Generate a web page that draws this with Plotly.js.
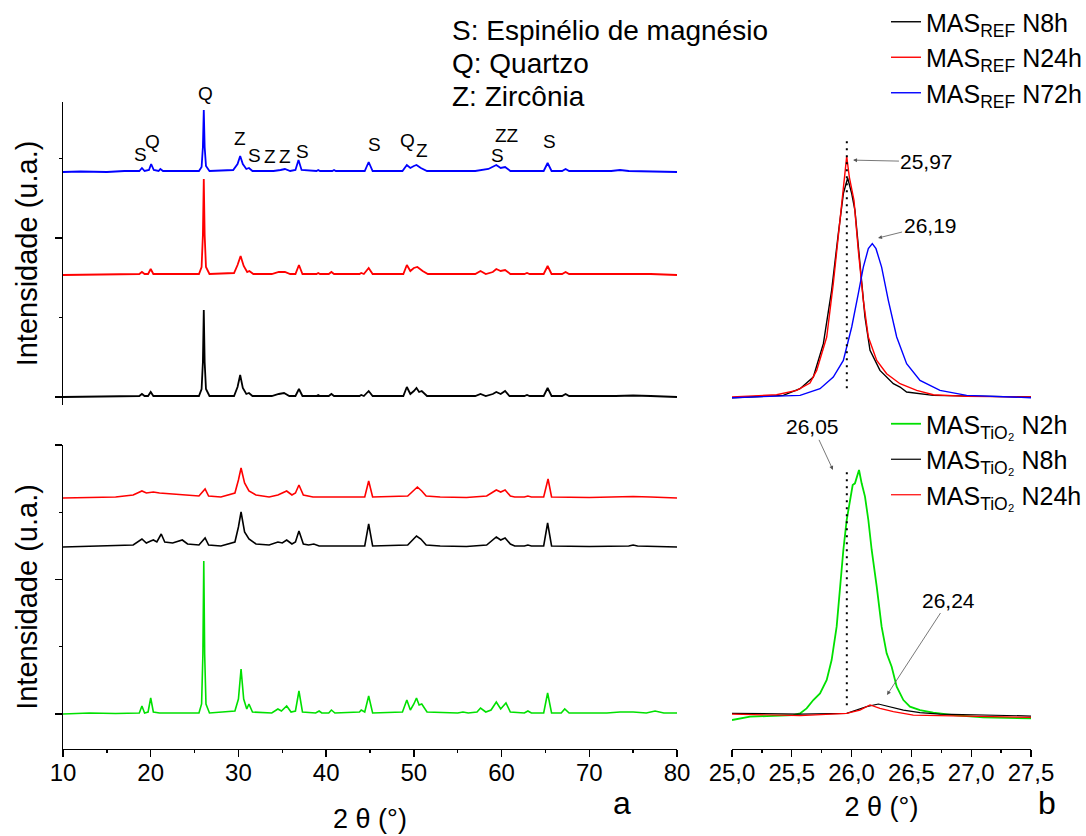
<!DOCTYPE html>
<html>
<head>
<meta charset="utf-8">
<script src="https://cdn.plot.ly/plotly-3.0.1.min.js"></script>
<style>html,body{margin:0;padding:0;background:#fff;}#chart{width:1086px;height:836px;}</style>
</head>
<body>
<div id="chart"></div>
<script>
// ---------- DATA (2θ in degrees, intensity in arbitrary units) ----------
// Panel a, top: MAS_REF samples  [2θ, intensity above own baseline]
const refN8h = [[10,0],[15,0.5],[18.7,1],[19.0,3],[19.3,1],[19.7,1],[20.0,5],[20.3,1],[25.5,1],[25.8,8],[25.95,35],[26.05,87],[26.15,35],[26.3,8],[26.7,1],[29.5,1],[29.9,10],[30.2,22],[30.5,9],[30.9,3],[31.2,4],[31.6,1],[33.8,1],[34.6,3],[35.2,4],[35.8,1],[36.5,1],[36.9,8],[37.3,1],[38.9,1],[39.1,2],[39.3,1],[40.3,1],[40.6,3],[40.9,1],[43.8,1],[44.0,2],[44.3,1],[44.85,6],[45.3,1],[48.8,1],[49.2,10],[49.6,3],[50.0,6],[50.3,9],[50.6,5],[50.9,6],[51.5,1],[57.0,1],[57.6,3],[58.2,1],[59.0,3],[59.4,5],[59.9,3],[60.4,6],[60.9,1],[62.6,1],[62.9,2],[63.2,1],[64.8,1],[65.25,9],[65.7,1],[66.9,1],[67.3,3],[67.7,1],[73,1],[75,1.5],[77,1],[80,0]];
const refN24h = [[10,0],[15,0.5],[18.7,1],[19.0,3],[19.3,1],[19.7,1],[20.0,6],[20.3,1],[25.5,1],[25.8,8],[25.95,40],[26.05,96],[26.15,40],[26.3,8],[26.7,1],[29.5,2],[29.9,10],[30.25,19],[30.6,9],[31.0,3],[31.25,4],[31.7,1],[33.8,1],[34.6,3],[35.3,3],[35.9,1],[36.5,1],[36.9,10],[37.3,1],[38.9,1],[39.1,2],[39.3,1],[40.3,1],[40.6,3],[40.9,1],[43.8,1],[44.0,2],[44.3,1],[44.85,7],[45.3,1],[48.8,1],[49.2,10],[49.6,4],[50.0,7],[50.4,8],[51.0,4],[51.6,1],[57.0,1],[57.6,4],[58.2,1],[59.0,3],[59.4,6],[59.9,4],[60.4,5],[61.0,1],[62.6,1],[62.9,2],[63.2,1],[64.8,1],[65.25,9],[65.7,1],[66.9,1],[67.3,3],[67.7,1],[73,1],[75,1.5],[77,1],[80,0]];
const refN72h = [[10,0],[12,0.5],[15,0],[17,1],[18.7,1],[19.0,4],[19.3,1],[19.8,2],[20.05,8],[20.35,2],[20.9,1],[21.1,3],[21.4,1],[25.5,1],[25.8,5],[25.95,25],[26.05,62],[26.15,25],[26.3,6],[26.7,1],[29.4,2],[29.9,8],[30.2,16],[30.5,8],[30.9,3],[31.2,4],[31.6,1],[34.0,1],[34.8,2],[35.3,3],[35.9,1],[36.5,2],[36.85,12],[37.2,2],[38.9,1],[39.1,2],[39.3,1],[40.7,1],[40.9,2],[41.1,1],[44.4,1],[44.85,10],[45.3,1],[48.7,1],[49.2,7],[49.6,4],[50.0,6],[50.3,7],[50.8,4],[51.5,1],[57.0,1],[58.5,3],[59.4,7],[59.9,4],[60.4,5],[61.0,1],[64.8,1],[65.25,9],[65.7,1],[66.9,1],[67.3,3],[67.7,1],[72.5,1],[73.5,2],[74.5,1],[80,0]];
const refOffsets = [0, 122, 225];   // N8h, N24h, N72h

// Panel a, bottom: MAS_TiO2 samples
const tioN2h = [[10,0],[13,1],[16,0.5],[18.7,1],[19.0,8],[19.3,1],[19.7,2],[20.0,16],[20.3,2],[21,1],[25.5,1],[25.8,10],[25.95,60],[26.05,153],[26.15,60],[26.3,10],[26.7,1],[29.6,3],[30.0,15],[30.3,45],[30.6,15],[30.95,5],[31.2,10],[31.6,2],[33.8,1],[34.5,5],[34.9,3],[35.5,8],[36.0,2],[36.5,3],[36.9,23],[37.3,2],[38.8,1],[39.2,3],[39.5,1],[40.3,1],[40.6,4],[41.0,1],[43.8,2],[44.0,4],[44.4,2],[44.85,18],[45.3,1],[48.7,2],[49.2,14],[49.6,4],[50.0,10],[50.3,16],[50.6,9],[50.9,10],[51.5,2],[55.0,1],[55.6,2],[56.2,1],[57.2,2],[57.6,6],[58.2,2],[58.8,4],[59.4,12],[59.9,5],[60.5,11],[61.0,2],[62.6,1],[63.0,3],[63.4,1],[64.8,1],[65.25,21],[65.7,1],[66.8,1],[67.2,5],[67.7,1],[72,1],[73.5,2],[75,2],[76.5,1],[77.5,3],[78.5,1],[80,1]];
const tioN8h = [[10,0],[13,0.5],[16,1],[18,2],[19.0,8],[19.5,4],[20.0,6],[20.3,7],[20.7,5],[21.2,13],[21.6,5],[22.5,4],[23.6,7],[24.2,3],[25.5,2],[26.2,9],[26.6,2],[28,1],[29.6,5],[30.0,20],[30.3,35],[30.7,15],[31.2,8],[32,3],[33.5,2],[34.5,5],[35.0,4],[35.5,7],[36.1,3],[36.5,5],[36.9,16],[37.4,3],[38.0,2],[38.6,3],[39.2,1],[44.4,1],[44.85,23],[45.3,1],[49.3,2],[49.8,6],[50.3,11],[50.8,8],[51.4,2],[53,1],[56,0.5],[58.3,2],[59.4,10],[59.9,7],[60.4,9],[61,3],[61.5,1],[62.6,1],[63.0,2],[63.4,1],[64.8,1],[65.25,24],[65.7,1],[70,0.5],[74.5,1],[75,2],[75.5,1],[80,0]];
const tioN24h = [[10,0],[13,0.5],[16,1],[18,3],[19.0,7],[19.5,5],[20.3,6],[21,5],[22.5,4],[24,3],[25.5,2],[26.2,9],[26.6,2],[28,1],[29.6,5],[30.0,18],[30.3,30],[30.7,15],[31.2,7],[32,3],[33.5,1],[34.5,3],[35.5,7],[36.1,3],[36.5,5],[36.9,13],[37.4,3],[38.5,1],[44.4,1],[44.85,17],[45.3,1],[49.3,2],[49.8,6],[50.4,11],[50.9,7],[51.4,2],[53,1],[56,0.5],[58.3,2],[59.4,8],[59.9,6],[60.4,8],[61,2],[61.5,1],[62.6,1],[63.0,2],[63.4,1],[64.8,1],[65.3,19],[65.7,1],[70,0.5],[75,1.5],[77,1],[80,0]];
const tioOffsets = [0, 167, 216];   // N2h, N8h, N24h

// Panel b, top: zoom on the 26° reflection (MAS_REF)
const zRefN8hX  = [25.0, 25.429, 25.569, 25.680, 25.764, 25.833, 25.889, 25.931, 25.967, 26.001, 26.028, 26.070, 26.112, 26.154, 26.237, 26.349, 26.405, 26.460, 26.683, 27.5];
const zRefN8hY  = [-0.008, 0.021, 0.105, 0.252, 0.671, 1.342, 2.055, 2.558, 2.755, 2.558, 2.348, 1.635, 1.006, 0.587, 0.335, 0.168, 0.126, 0.063, 0.021, 0];
const zRefN24hX = [25.0, 25.373, 25.541, 25.652, 25.708, 25.792, 25.847, 25.889, 25.931, 25.959, 25.981, 26.020, 26.056, 26.098, 26.140, 26.210, 26.293, 26.405, 26.544, 26.683, 26.962, 27.5];
const zRefN24hY = [0, 0.029, 0.084, 0.176, 0.335, 0.755, 1.426, 2.055, 2.642, 3.027, 2.767, 2.474, 1.845, 1.216, 0.755, 0.461, 0.293, 0.168, 0.084, 0.029, 0.008, 0];
const zRefN72hX = [25.0, 25.569, 25.736, 25.847, 25.931, 26.001, 26.056, 26.098, 26.140, 26.173, 26.204, 26.251, 26.307, 26.377, 26.460, 26.572, 26.739, 26.962, 27.5];
const zRefN72hY = [-0.008, 0.021, 0.105, 0.252, 0.461, 0.881, 1.300, 1.635, 1.866, 1.929, 1.866, 1.635, 1.216, 0.755, 0.419, 0.210, 0.084, 0.021, -0.008];

// Panel b, bottom: zoom on the 26° reflection (MAS_TiO2)
const zTioN2hX  = [25.0, 25.151, 25.290, 25.513, 25.569, 25.624, 25.680, 25.736, 25.792, 25.833, 25.875, 25.903, 25.931, 25.959, 25.987, 26.009, 26.028, 26.048, 26.062, 26.084, 26.112, 26.140, 26.168, 26.210, 26.251, 26.293, 26.335, 26.377, 26.433, 26.488, 26.572, 26.683, 26.851, 27.101, 27.5];
const zTioN2hY  = [-0.089, -0.040, -0.030, -0.015, 0.010, 0.084, 0.208, 0.307, 0.506, 0.803, 1.299, 1.893, 2.439, 2.885, 3.182, 3.405, 3.430, 3.554, 3.628, 3.430, 3.232, 2.885, 2.439, 1.893, 1.299, 0.902, 0.704, 0.406, 0.208, 0.109, 0.059, 0.020, -0.015, -0.050, -0.064];
const zTioN8hX  = [25.0, 25.569, 25.959, 26.042, 26.126, 26.224, 26.321, 26.433, 26.572, 26.739, 27.5];
const zTioN8hY  = [0.010, 0, 0.010, 0.059, 0.109, 0.149, 0.109, 0.059, 0.020, 0, -0.030];
const zTioN24hX = [25.0, 25.569, 25.959, 26.070, 26.154, 26.237, 26.349, 26.516, 27.5];
const zTioN24hY = [0, -0.025, 0.010, 0.059, 0.134, 0.084, 0.035, -0.015, -0.050];

// Reference position (dotted line) and its vertical extent in each zoom panel
const refLineX = [25.96, 25.96];
const refLineYTop = [0.11, 3.27];
const refLineYBottom = [0.13, 3.60];

// Phase labels over the MAS_REF N72h pattern: [label, 2θ, height]
const phaseLabels = [
  ["S", 18.78, 243], ["Q", 20.15, 256], ["Q", 26.3, 291], ["Z", 30.18, 259],
  ["S", 31.78, 242], ["Z", 33.6, 241], ["Z", 35.31, 241], ["S", 37.25, 246],
  ["S", 45.46, 253], ["Q", 49.22, 257], ["Z", 50.94, 247], ["S", 59.49, 242],
  ["ZZ", 60.63, 262], ["S", 65.42, 256]
];

// Peak position call-outs: [text, 2θ tip, y tip, 2θ text, y text]
const peakCallTop = [["25,97", 26.012, 2.98, 26.63, 2.96], ["26,19", 26.221, 2.00, 26.656, 2.164]];
const peakCallBottom = [["26,05", 25.844, 3.63, 25.677, 4.27], ["26,24", 26.296, 0.283, 26.814, 1.695]];

const legendRef = ["MAS<sub>REF</sub> N8h", "MAS<sub>REF</sub> N24h", "MAS<sub>REF</sub> N72h"];
const legendTio = ["MAS<sub>TiO₂</sub> N2h", "MAS<sub>TiO₂</sub> N8h", "MAS<sub>TiO₂</sub> N24h"];
const phaseKey = ["S: Espinélio de magnésio", "Q: Quartzo", "Z: Zircônia"];

// ---------- BUILD ----------
const BLACK = "#000000", RED = "#ff0000", BLUE = "#0000ff", GREEN = "#00e000";
const FONT = "Arial, 'Liberation Sans', sans-serif";

function xrd(pairs, offset, color, xa, ya, w) {
  return {
    x: pairs.map(p => p[0]), y: pairs.map(p => p[1] + offset),
    xaxis: xa, yaxis: ya, type: "scatter", mode: "lines",
    line: {color: color, width: w}, showlegend: false, hoverinfo: "skip"
  };
}

const traces = [
  xrd(refN8h, refOffsets[0], BLACK, "x", "y", 1.8),
  xrd(refN24h, refOffsets[1], RED, "x", "y", 1.8),
  xrd(refN72h, refOffsets[2], BLUE, "x", "y", 1.8),
  xrd(tioN2h, tioOffsets[0], GREEN, "x3", "y3", 1.6),
  xrd(tioN8h, tioOffsets[1], BLACK, "x3", "y3", 1.6),
  xrd(tioN24h, tioOffsets[2], RED, "x3", "y3", 1.6),
  {x: zRefN8hX, y: zRefN8hY, xaxis: "x2", yaxis: "y2", mode: "lines", line: {color: BLACK, width: 1.4},
   name: legendRef[0], legend: "legend", legendgroup: "r1"},
  {x: zRefN24hX, y: zRefN24hY, xaxis: "x2", yaxis: "y2", mode: "lines", line: {color: RED, width: 1.4},
   name: legendRef[1], legend: "legend", legendgroup: "r2"},
  {x: zRefN72hX, y: zRefN72hY, xaxis: "x2", yaxis: "y2", mode: "lines", line: {color: BLUE, width: 1.4},
   name: legendRef[2], legend: "legend", legendgroup: "r3"},
  {x: zTioN2hX, y: zTioN2hY, xaxis: "x4", yaxis: "y4", mode: "lines", line: {color: GREEN, width: 1.8},
   name: legendTio[0], legend: "legend2", legendgroup: "t1"},
  {x: zTioN8hX, y: zTioN8hY, xaxis: "x4", yaxis: "y4", mode: "lines", line: {color: BLACK, width: 1.2},
   name: legendTio[1], legend: "legend2", legendgroup: "t2"},
  {x: zTioN24hX, y: zTioN24hY, xaxis: "x4", yaxis: "y4", mode: "lines", line: {color: RED, width: 1.2},
   name: legendTio[2], legend: "legend2", legendgroup: "t3"},
  {x: refLineX, y: refLineYTop, xaxis: "x2", yaxis: "y2", mode: "lines",
   line: {color: BLACK, width: 2, dash: "2px,5px"}, showlegend: false, hoverinfo: "skip"},
  {x: refLineX, y: refLineYBottom, xaxis: "x4", yaxis: "y4", mode: "lines",
   line: {color: BLACK, width: 2, dash: "2px,5px"}, showlegend: false, hoverinfo: "skip"}
];

const annotations = [];
phaseLabels.forEach(l => annotations.push({
  text: l[0], x: l[1], y: l[2], xref: "x", yref: "y", showarrow: false,
  yanchor: l[0] === "Q" && l[2] > 280 ? "bottom" : "middle",
  font: {size: 19, color: BLACK, family: FONT}
}));
function callout(c, xr, yr) {
  annotations.push({
    text: c[0], x: c[1], y: c[2], ax: c[3], ay: c[4], xref: xr, yref: yr, axref: xr, ayref: yr,
    showarrow: true, arrowhead: 2, arrowsize: 1, arrowwidth: 0.8, arrowcolor: "#555555",
    standoff: 0, font: {size: 21, color: BLACK, family: FONT}
  });
}
peakCallTop.forEach(c => callout(c, "x2", "y2"));
peakCallBottom.forEach(c => callout(c, "x4", "y4"));
phaseKey.forEach((t, i) => annotations.push({
  text: t, xref: "paper", yref: "paper", x: 450 / 1086, y: 1 - [30, 63, 97][i] / 836,
  xanchor: "left", yanchor: "middle", showarrow: false, font: {size: 28, color: BLACK, family: FONT}
}));
annotations.push({text: "a", xref: "paper", yref: "paper", x: 622 / 1086, y: 1 - 803 / 836,
  xanchor: "center", yanchor: "middle", showarrow: false, font: {size: 32, color: BLACK, family: FONT}});
annotations.push({text: "b", xref: "paper", yref: "paper", x: 1047 / 1086, y: 1 - 803 / 836,
  xanchor: "center", yanchor: "middle", showarrow: false, font: {size: 32, color: BLACK, family: FONT}});

const xDomL = [63 / 1086, 677 / 1086], xDomR = [732 / 1086, 1031 / 1086];
const yDomT = [431 / 836, 734 / 836], yDomB = [87 / 836, 391 / 836];
const hidden = {showline: false, showticklabels: false, ticks: "", showgrid: false, zeroline: false};
const yLeftCommon = {
  showline: true, linecolor: BLACK, linewidth: 1.3, ticks: "outside", ticklen: 7, tickwidth: 1.3,
  tickcolor: BLACK, showticklabels: false, showgrid: false, zeroline: false,
  title: {text: "Intensidade (u.a.)", font: {size: 29, color: BLACK, family: FONT}, standoff: 8}
};
const xBottomCommon = {
  showline: true, linecolor: BLACK, linewidth: 1.3, ticks: "outside", ticklen: 7, tickwidth: 1.3,
  tickcolor: BLACK, showgrid: false, zeroline: false, ticklabelstandoff: -5,
  tickfont: {size: 24, color: BLACK, family: FONT}
};

const layout = {
  width: 1086, height: 836, margin: {l: 0, r: 0, t: 0, b: 0, autoexpand: false},
  paper_bgcolor: "#ffffff", plot_bgcolor: "rgba(0,0,0,0)", separators: ",.",
  font: {family: FONT, color: BLACK},
  xaxis: Object.assign({domain: xDomL, range: [10, 80], anchor: "y"}, hidden),
  yaxis: Object.assign({domain: yDomT, range: [-8, 295], anchor: "x", tick0: 0, dtick: 159,
    minor: {ticks: "outside", ticklen: 3, tickcolor: BLACK, tick0: 0, dtick: 79.5}}, yLeftCommon),
  xaxis2: Object.assign({domain: xDomR, range: [25, 27.5], anchor: "y2"}, hidden),
  yaxis2: Object.assign({domain: yDomT, range: [-0.1, 3.711], anchor: "x2"}, hidden),
  xaxis3: Object.assign({domain: xDomL, range: [10, 80], anchor: "y3", tick0: 10, dtick: 10,
    minor: {ticks: "outside", ticklen: 3, tickcolor: BLACK, dtick: 5},
    title: {text: "2 θ (°)", font: {size: 27, color: BLACK, family: FONT}, standoff: 24}}, xBottomCommon),
  yaxis3: Object.assign({domain: yDomB, range: [-35, 269], anchor: "x3", tick0: 0, dtick: 134.5,
    minor: {ticks: "outside", ticklen: 3, tickcolor: BLACK, tick0: 0, dtick: 67.25}}, yLeftCommon),
  xaxis4: Object.assign({domain: xDomR, range: [25, 27.5], anchor: "y4", tick0: 25, dtick: 0.5,
    tickformat: ".1f", minor: {ticks: "outside", ticklen: 3, tickcolor: BLACK, dtick: 0.25},
    title: {text: "2 θ (°)", font: {size: 27, color: BLACK, family: FONT}, standoff: 12}}, xBottomCommon),
  yaxis4: Object.assign({domain: yDomB, range: [-0.52, 4.0], anchor: "x4"}, hidden),
  legend: {x: 886 / 1086, y: 1 + 1 / 836, xanchor: "left", yanchor: "top", bgcolor: "rgba(0,0,0,0)",
    font: {size: 25, color: BLACK, family: FONT}, tracegroupgap: 14, traceorder: "normal"},
  legend2: {x: 886 / 1086, y: 1 - 401 / 836, xanchor: "left", yanchor: "top", bgcolor: "rgba(0,0,0,0)",
    font: {size: 25, color: BLACK, family: FONT}, tracegroupgap: 10, traceorder: "normal"},
  annotations: annotations,
  showlegend: true
};

Plotly.newPlot("chart", traces, layout, {staticPlot: true});
</script>
</body>
</html>
